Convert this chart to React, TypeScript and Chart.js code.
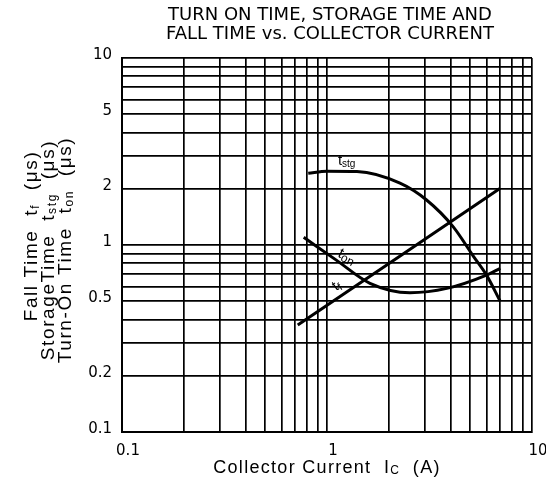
import React, { useEffect, useRef } from 'react';
import { Chart, registerables } from 'chart.js';

Chart.register(...registerables);

const titleLines = ['TURN ON TIME, STORAGE TIME AND', 'FALL TIME vs. COLLECTOR CURRENT'];

const gridValues = [0.1, 0.2, 0.3, 0.4, 0.5, 0.6, 0.7, 0.8, 0.9, 1, 2, 3, 4, 5, 6, 7, 8, 9, 10];
const xTickLabels = ['0.1', '1', '10'];
const yTickLabels = ['0.1', '0.2', '0.5', '1', '2', '5', '10'];

const icStg = [0.81, 1.0, 1.4, 2.27, 3.06, 4.13, 5.18, 6.0, 7.0];
const tStg = [2.42, 2.48, 2.47, 2.14, 1.74, 1.25, 0.87, 0.69, 0.5];

const icOn = [0.77, 1.11, 1.62, 2.54, 3.84, 6.0, 7.0];
const tOn = [1.1, 0.83, 0.624, 0.556, 0.586, 0.69, 0.75];

const icF = [0.72, 7.0];
const tF = [0.373, 2.01];

type Part = { text: string; sub?: boolean };

const curveLabels: { parts: Part[]; x: number; y: number; rot: number; size: number; sub: number }[] = [
  { parts: [{ text: 't' }, { text: 'stg', sub: true }], x: 1.13, y: 2.68, rot: 0, size: 15, sub: 10 },
  { parts: [{ text: 't' }, { text: 'on', sub: true }], x: 1.12, y: 0.87, rot: 28, size: 15, sub: 12 },
  { parts: [{ text: 't' }, { text: 'f', sub: true }], x: 1.11, y: 0.565, rot: -36, size: 15, sub: 11 },
];

const yTitleLines: { parts: Part[]; x: number; y: number }[] = [
  { parts: [{ text: 'Fall Time  t' }, { text: 'f', sub: true }, { text: '  (μs)' }], x: 30, y: 236 },
  { parts: [{ text: 'StorageTime  t' }, { text: 'stg', sub: true }, { text: '  (μs)' }], x: 47, y: 250 },
  { parts: [{ text: 'Turn-On Time  t' }, { text: 'on', sub: true }, { text: '  (μs)' }], x: 64, y: 250 },
];

const xTitleParts: Part[] = [{ text: 'Collector Current  I' }, { text: 'C', sub: true }, { text: '  (A)' }];

const AXIS_FONT = 'Liberation Sans, Arial, sans-serif';
const TICK_FONT = 'DejaVu Sans, sans-serif';

function drawRich(
  ctx: CanvasRenderingContext2D,
  parts: Part[],
  x: number,
  y: number,
  rotDeg: number,
  size: number,
  subSize: number,
  subShift: number,
  align: 'center' | 'left',
  spacing: number
) {
  ctx.save();
  ctx.translate(x, y);
  ctx.rotate((rotDeg * Math.PI) / 180);
  ctx.fillStyle = '#000';
  ctx.textBaseline = 'alphabetic';
  ctx.textAlign = 'left';
  (ctx as any).letterSpacing = `${spacing}px`;
  const fontMain = `${size}px ${AXIS_FONT}`;
  const fontSub = `${subSize}px ${AXIS_FONT}`;
  let total = 0;
  const widths = parts.map((p) => {
    ctx.font = p.sub ? fontSub : fontMain;
    const w = ctx.measureText(p.text).width;
    total += w;
    return w;
  });
  let cx = align === 'center' ? -total / 2 : 0;
  const baseY = align === 'center' ? size * 0.36 : 0;
  parts.forEach((p, i) => {
    ctx.font = p.sub ? fontSub : fontMain;
    ctx.fillText(p.text, cx, baseY + (p.sub ? subShift : 0));
    cx += widths[i];
  });
  ctx.restore();
}

const textPlugin = {
  id: 'textPlugin',
  afterDraw(chart: any) {
    const ctx: CanvasRenderingContext2D = chart.ctx;
    const area = chart.chartArea;
    const xs = chart.scales.x;
    const ys = chart.scales.y;
    ctx.save();
    ctx.fillStyle = '#000';
    ctx.font = `18px ${TICK_FONT}`;
    ctx.textAlign = 'center';
    ctx.textBaseline = 'middle';
    const cx = (area.left + area.right) / 2 + 3;
    ctx.fillText(titleLines[0], cx, 15);
    ctx.fillText(titleLines[1], cx, 34);
    ctx.restore();

    yTitleLines.forEach((l) => drawRich(ctx, l.parts, l.x, l.y, -90, 19, 12, 2, 'center', 1.6));
    drawRich(ctx, xTitleParts, (area.left + area.right) / 2, 467, 0, 18, 12, 1, 'center', 1.3);

    curveLabels.forEach((l) => {
      const px = xs.getPixelForValue(l.x);
      const py = ys.getPixelForValue(l.y);
      drawRich(ctx, l.parts, px, py, l.rot, l.size, l.sub, 2, 'left', 0);
    });
  },
};

function labelFor(v: number, labels: string[]) {
  const hit = labels.find((l) => Math.abs(parseFloat(l) - v) / v < 1e-6);
  return hit ?? '';
}

export default function App() {
  const ref = useRef<HTMLCanvasElement | null>(null);

  useEffect(() => {
    document.body.style.margin = '0';
    const canvas = ref.current;
    if (!canvas) return;
    const lineStyle = {
      borderColor: '#000',
      borderWidth: 3,
      pointRadius: 0,
      showLine: true,
      fill: false,
      cubicInterpolationMode: 'monotone' as const,
    };
    const chart = new Chart(canvas, {
      type: 'scatter',
      data: {
        datasets: [
          { label: 'tstg', data: icStg.map((x, i) => ({ x, y: tStg[i] })), ...lineStyle },
          { label: 'ton', data: icOn.map((x, i) => ({ x, y: tOn[i] })), ...lineStyle },
          { label: 'tf', data: icF.map((x, i) => ({ x, y: tF[i] })), ...lineStyle },
        ],
      },
      options: {
        animation: false,
        responsive: true,
        maintainAspectRatio: false,
        layout: { padding: { top: 58, right: 14, left: 0, bottom: 0 } },
        plugins: { legend: { display: false }, tooltip: { enabled: false }, title: { display: false } },
        scales: {
          x: {
            type: 'logarithmic',
            min: 0.1,
            max: 10,
            afterBuildTicks: (s: any) => {
              s.ticks = gridValues.map((v) => ({ value: v }));
            },
            afterFit: (s: any) => {
              s.height = 65;
              s.paddingLeft = 0;
              s.paddingRight = 0;
            },
            ticks: {
              autoSkip: false,
              maxRotation: 0,
              minRotation: 0,
              padding: 10,
              labelOffset: 6,
              color: '#000',
              font: { family: TICK_FONT, size: 15 },
              callback: (v: any) => labelFor(Number(v), xTickLabels),
            },
            grid: { color: '#000', lineWidth: 1.7, drawTicks: false },
            border: { color: '#000', width: 2 },
          },
          y: {
            type: 'logarithmic',
            min: 0.1,
            max: 10,
            afterBuildTicks: (s: any) => {
              s.ticks = gridValues.map((v) => ({ value: v }));
            },
            afterFit: (s: any) => {
              s.width = 122;
              s.paddingTop = 0;
              s.paddingBottom = 0;
            },
            ticks: {
              autoSkip: false,
              padding: 10,
              labelOffset: -3,
              color: '#000',
              font: { family: TICK_FONT, size: 15 },
              callback: (v: any) => labelFor(Number(v), yTickLabels),
            },
            grid: { color: '#000', lineWidth: 1.7, drawTicks: false },
            border: { color: '#000', width: 2 },
          },
        },
      },
      plugins: [textPlugin],
    });
    return () => chart.destroy();
  }, []);

  return (
    <div style={{ width: 546, height: 497, position: 'relative', background: '#fff' }}>
      <canvas ref={ref} />
    </div>
  );
}
